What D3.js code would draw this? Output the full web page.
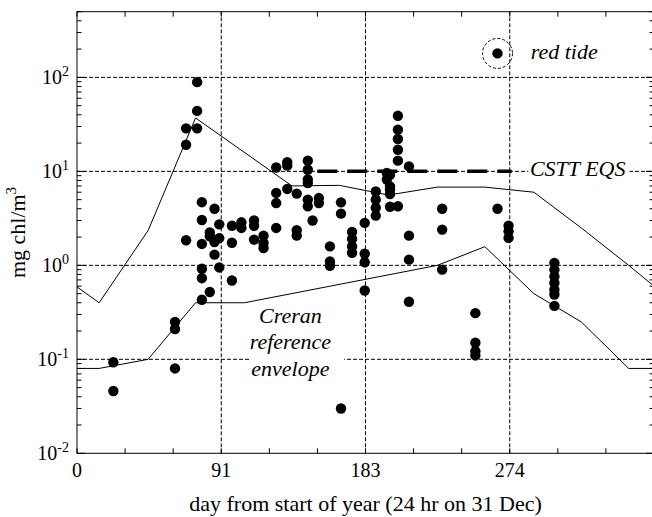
<!DOCTYPE html>
<html>
<head>
<meta charset="utf-8">
<script src="https://cdn.jsdelivr.net/npm/d3@7"></script>
<style>
  body { margin: 0; background: #fff; }
  svg text { font-family: "Liberation Serif", "Times New Roman", serif; fill: #000; }
  .grid { stroke: #000; stroke-width: 1; stroke-dasharray: 4,2; fill: none; }
  .env { stroke: #000; stroke-width: 1; fill: none; }
  .tick { stroke: #000; stroke-width: 1; }
</style>
</head>
<body>
<svg width="652" height="517"></svg>
<script>
// sampling days and the chlorophyll values measured on them (mg chl/m3)
const sampleDays = [23, 62, 69, 76, 79, 84, 87, 90, 98, 104, 112, 118, 126, 133, 139, 146,
  149, 153, 160, 167, 174, 182, 189, 196, 198, 203, 210, 231, 252, 266, 273, 302];
const chlValues = [
  [0.093, 0.046],
  [0.25, 0.21, 0.08],
  [28.7, 19.2, 1.85],
  [89, 44, 28.7],
  [4.7, 3.04, 1.69, 0.92, 0.73, 0.43],
  [2.24, 2.04, 0.52],
  [4.0, 1.77, 1.3],
  [2.73, 1.95, 0.95],
  [2.64, 1.74, 0.69],
  [2.87, 2.5],
  [3.0, 2.64, 1.88],
  [2.07, 1.73, 1.53],
  [11.0, 5.9, 4.6, 2.5],
  [12.5, 11.5, 6.5],
  [5.8, 2.36, 2.07],
  [13, 10.4, 8.2, 7.5, 5.0, 4.25],
  [3.0],
  [5.2, 4.6],
  [1.59, 1.1, 0.99],
  [4.68, 3.55, 0.03],
  [2.27, 1.91, 1.59, 1.36],
  [2.83, 1.33, 1.08, 0.54],
  [6.1, 5.0, 4.1, 3.38],
  [9.6, 8.2],
  [9.2, 6.9, 6.4, 5.75, 4.2],
  [39, 27.8, 22.1, 17, 13, 4.25],
  [11.3, 2.07, 1.15, 0.41],
  [4.0, 2.4, 0.9],
  [0.31, 0.15, 0.122, 0.11],
  [4.0],
  [2.64, 2.3, 1.96],
  [1.06, 0.9, 0.76, 0.65, 0.55, 0.49, 0.37]
];

// Creran reference envelope
const upperDays = [0, 14, 45, 75, 136, 166, 197, 228, 258, 289, 319, 349, 365];
const upperChl  = [0.59, 0.4, 2.35, 37, 7.0, 7.1, 5.6, 6.8, 6.8, 6.0, 2.5, 1.0, 0.6];
const lowerDays = [0, 14, 45, 75, 106, 228, 258, 289, 319, 349, 365];
const lowerChl  = [0.08, 0.08, 0.1, 0.4, 0.4, 1.0, 1.58, 0.5, 0.25, 0.08, 0.08];

// CSTT environmental quality standard
const eqsValue = 10;
const eqsDays = [152, 275];

// axis ticks
const xTickDays = [0, 91.25, 182.5, 273.75];
const xTickLabels = ["0", "91", "183", "274"];
const yDecades = [0.01, 0.1, 1, 10, 100];
const yTickLabels = ["-2", "-1", "0", "1", "2"];

const svg = d3.select("svg");

const x = d3.scaleLinear().domain([0, 365]).range([77, 654]);
const y = d3.scaleLog().domain([0.01, 500]).range([453.3, 11.7]);

const [x0, x1] = x.range();
const [yb, yt] = y.range();

// dashed grid
const grid = svg.append("g");
grid.selectAll("line.v")
    .data(xTickDays.slice(1))
    .join("line")
    .attr("class", "grid")
    .attr("x1", d => x(d)).attr("x2", d => x(d))
    .attr("y1", yb).attr("y2", yt);
grid.selectAll("line.h")
    .data(yDecades.slice(1))
    .join("line")
    .attr("class", "grid")
    .attr("x1", x0).attr("x2", x1)
    .attr("y1", d => y(d)).attr("y2", d => y(d));

// white patches behind the labels that sit on grid lines
svg.append("rect")
    .attr("x", x(110)).attr("width", x(169) - x(110))
    .attr("y", y(0.1) - 4).attr("height", 8)
    .attr("fill", "#fff");
svg.append("rect")
    .attr("x", x(285.5)).attr("width", x(349.5) - x(285.5))
    .attr("y", y(10) - 4).attr("height", 8)
    .attr("fill", "#fff");

// envelope lines
const line = d3.line().x(d => x(d[0])).y(d => y(d[1]));
svg.append("path").attr("class", "env")
    .attr("d", line(d3.zip(upperDays, upperChl)));
svg.append("path").attr("class", "env")
    .attr("d", line(d3.zip(lowerDays, lowerChl)));

// EQS heavy dashed line
svg.append("line")
    .attr("x1", x(eqsDays[0])).attr("x2", x(eqsDays[1]))
    .attr("y1", y(eqsValue)).attr("y2", y(eqsValue))
    .attr("stroke", "#000")
    .attr("stroke-width", 3.5)
    .attr("stroke-dasharray", "20,10");

// observations
const points = sampleDays.flatMap((d, i) => chlValues[i].map(v => [d, v]));
svg.append("g")
    .selectAll("circle")
    .data(points)
    .join("circle")
    .attr("cx", d => x(d[0]))
    .attr("cy", d => y(d[1]))
    .attr("r", 5.2)
    .attr("fill", "#000");

// red tide marker
svg.append("circle")
    .attr("cx", x(266)).attr("cy", y(180))
    .attr("r", 15)
    .attr("fill", "none")
    .attr("stroke", "#000")
    .attr("stroke-dasharray", "3,2");
svg.append("circle")
    .attr("cx", x(266)).attr("cy", y(180))
    .attr("r", 5.2)
    .attr("fill", "#000");
svg.append("text")
    .attr("x", x(287)).attr("y", y(180) + 6)
    .attr("font-size", 22)
    .attr("font-style", "italic")
    .text("red tide");

svg.append("text")
    .attr("x", x(286.5)).attr("y", y(eqsValue) + 5)
    .attr("font-size", 22)
    .attr("font-style", "italic")
    .text("CSTT EQS");

const creran = svg.append("text")
    .attr("x", x(135)).attr("y", y(0.1) - 36.5)
    .attr("font-size", 22)
    .attr("font-style", "italic")
    .attr("text-anchor", "middle");
["Creran", "reference", "envelope"].forEach((s, i) => {
    creran.append("tspan")
        .attr("x", x(135))
        .attr("dy", i === 0 ? 0 : 26.5)
        .text(s);
});

// frame
svg.append("rect")
    .attr("x", x0).attr("y", yt)
    .attr("width", x1 - x0).attr("height", yb - yt)
    .attr("fill", "none")
    .attr("stroke", "#000")
    .attr("stroke-width", 1);

// x ticks (monthly), inward on top and bottom
const monthTicks = d3.range(13).map(i => i * 365 / 12);
const ticks = svg.append("g");
monthTicks.forEach(d => {
    ticks.append("line").attr("class", "tick")
        .attr("x1", x(d)).attr("x2", x(d)).attr("y1", yb).attr("y2", yb - 5);
    ticks.append("line").attr("class", "tick")
        .attr("x1", x(d)).attr("x2", x(d)).attr("y1", yt).attr("y2", yt + 5);
});

// y ticks, inward on left and right
y.ticks().forEach(v => {
    const major = yDecades.includes(v);
    const len = major ? 8 : 4.5;
    ticks.append("line").attr("class", "tick")
        .attr("x1", x0).attr("x2", x0 + len).attr("y1", y(v)).attr("y2", y(v));
    ticks.append("line").attr("class", "tick")
        .attr("x1", x1).attr("x2", x1 - len).attr("y1", y(v)).attr("y2", y(v));
});

// tick labels
svg.append("g")
    .selectAll("text")
    .data(xTickDays)
    .join("text")
    .attr("x", d => x(d))
    .attr("y", yb + 24)
    .attr("font-size", 20)
    .attr("text-anchor", "middle")
    .text((d, i) => xTickLabels[i]);

const yLab = svg.append("g")
    .selectAll("text")
    .data(yDecades)
    .join("text")
    .attr("x", x0 - 8)
    .attr("y", d => y(d) + 6.5)
    .attr("font-size", 20)
    .attr("text-anchor", "end");
yLab.append("tspan").text("10");
yLab.append("tspan")
    .attr("font-size", 14)
    .attr("dy", -8)
    .text((d, i) => yTickLabels[i]);

// axis titles
svg.append("text")
    .attr("x", (x0 + x1) / 2)
    .attr("y", 511)
    .attr("font-size", 22)
    .attr("text-anchor", "middle")
    .text("day from start of year (24 hr on 31 Dec)");

const yTitle = svg.append("text")
    .attr("transform", `translate(25,${(yb + yt) / 2}) rotate(-90)`)
    .attr("font-size", 22)
    .attr("text-anchor", "middle");
yTitle.append("tspan").text("mg chl/m");
yTitle.append("tspan").attr("font-size", 15).attr("dy", -9).text("3");
</script>
</body>
</html>
